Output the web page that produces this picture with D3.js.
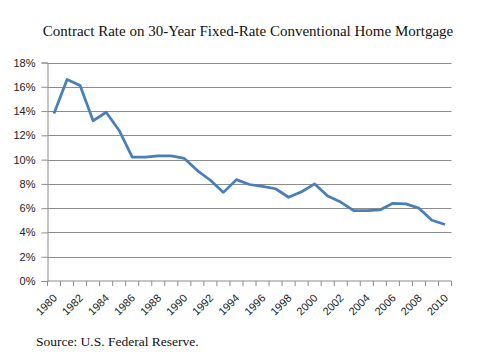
<!DOCTYPE html>
<html><head><meta charset="utf-8">
<script src="https://cdn.jsdelivr.net/npm/d3@7"></script>
<style>body{margin:0;background:#fff}svg{display:block}</style>
</head><body>
<svg id="c" width="486" height="357"></svg>
<script>
const years = d3.range(1980, 2011).map(String);
const rates = [13.8,16.6,16.1,13.2,13.9,12.4,10.2,10.2,10.3,10.3,10.1,9.1,8.3,7.3,8.35,7.95,7.8,7.6,6.9,7.35,8.0,7.0,6.5,5.8,5.8,5.85,6.4,6.35,6.0,5.0,4.65];
const yTicks = [0,2,4,6,8,10,12,14,16,18];
const title = "Contract Rate on 30-Year Fixed-Rate Conventional Home Mortgage";
const source = "Source: U.S. Federal Reserve.";

const svg = d3.select("#c");
const L = 47.5, R = 451.5, T = 62.5, B = 281;
const x = d3.scaleBand().domain(years).range([L, R]);
const y = d3.scaleLinear().domain([0, 18]).range([B, T]);

svg.append("text").attr("x", 248).attr("y", 36).attr("text-anchor", "middle")
  .attr("font-family", "Liberation Serif, Times New Roman, serif").attr("font-size", 15)
  .attr("fill", "#111").text(title);

// gridlines
svg.append("g").selectAll("line").data(yTicks.filter(d => d > 0)).join("line")
  .attr("x1", L).attr("x2", R).attr("y1", d => Math.round(y(d)) + 0.5).attr("y2", d => Math.round(y(d)) + 0.5)
  .attr("stroke", "#8c8c8c").attr("stroke-width", 1);

// y axis
const ya = svg.append("g").attr("transform", `translate(${L},0)`)
  .call(d3.axisLeft(y).tickValues(yTicks).tickFormat(d => d + "%").tickSize(6).tickPadding(6));
ya.select(".domain").attr("stroke", "#8c8c8c");
ya.selectAll(".tick line").attr("stroke", "#8c8c8c");
ya.selectAll("text").attr("font-family", "Liberation Sans, Arial, sans-serif").attr("font-size", 11).attr("fill", "#222");

// x axis
const xa = svg.append("g").attr("transform", `translate(0,${B})`);
xa.append("line").attr("x1", L).attr("x2", R).attr("y1", 0).attr("y2", 0).attr("stroke", "#8c8c8c");
const bounds = years.map(d => x(d)).concat([R]);
xa.selectAll("line.tk").data(bounds).join("line").attr("class", "tk")
  .attr("x1", d => d).attr("x2", d => d).attr("y1", 0).attr("y2", 5).attr("stroke", "#8c8c8c");
xa.selectAll("text").data(years.filter((d, i) => i % 2 === 0)).join("text")
  .attr("transform", d => `translate(${x(d) + x.bandwidth() / 2 + 1},${15}) rotate(-45)`)
  .attr("text-anchor", "end").attr("dy", "0.35em")
  .attr("font-family", "Liberation Sans, Arial, sans-serif").attr("font-size", 11).attr("fill", "#222")
  .text(d => d);

// line
const line = d3.line().x((d, i) => x(years[i]) + x.bandwidth() / 2).y(d => y(d));
svg.append("path").datum(rates).attr("d", line).attr("fill", "none")
  .attr("stroke", "#4a7ebb").attr("stroke-width", 2.75).attr("stroke-linejoin", "round");

svg.append("text").attr("x", 36).attr("y", 346)
  .attr("font-family", "Liberation Serif, Times New Roman, serif").attr("font-size", 13.5)
  .attr("fill", "#111").text(source);
</script>
</body></html>
